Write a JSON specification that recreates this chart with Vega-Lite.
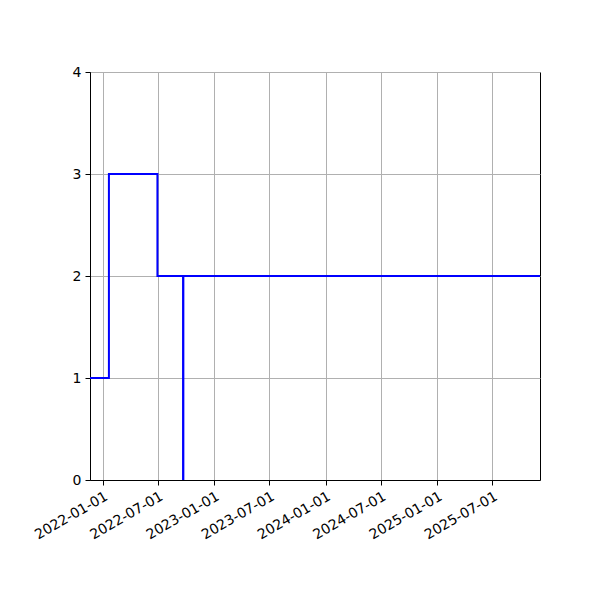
{
  "$schema": "https://vega.github.io/schema/vega-lite/v6.json",
  "autosize": {"type": "none"},
  "padding": {"left": 90, "top": 72, "right": 60, "bottom": 120},
  "width": 450,
  "height": 408,
  "background": "white",
  "data": {
    "values": [
      {"date": "2021-11-20", "value": 1},
      {"date": "2022-01-21", "value": 3},
      {"date": "2022-06-29", "value": 2},
      {"date": "2022-09-21", "value": 0},
      {"date": "2022-09-22", "value": 2},
      {"date": "2025-12-04", "value": 2}
    ]
  },
  "mark": {"type": "line", "interpolate": "step-after", "color": "blue", "strokeWidth": 2, "clip": true},
  "encoding": {
    "x": {
      "field": "date",
      "type": "temporal",
      "scale": {"type": "utc", "domain": [{"year": 2021, "month": 11, "date": 20, "utc": true}, {"year": 2025, "month": 12, "date": 4, "utc": true}], "nice": false},
      "axis": {
        "title": null,
        "values": [
          {"year": 2022, "month": 1, "date": 1, "utc": true},
          {"year": 2022, "month": 7, "date": 1, "utc": true},
          {"year": 2023, "month": 1, "date": 1, "utc": true},
          {"year": 2023, "month": 7, "date": 1, "utc": true},
          {"year": 2024, "month": 1, "date": 1, "utc": true},
          {"year": 2024, "month": 7, "date": 1, "utc": true},
          {"year": 2025, "month": 1, "date": 1, "utc": true},
          {"year": 2025, "month": 7, "date": 1, "utc": true}
        ],
        "format": "%Y-%m-%d",
        "labelAngle": -30,
        "labelAlign": "right",
        "labelBaseline": "top",
        "labelPadding": 4
      }
    },
    "y": {
      "field": "value",
      "type": "quantitative",
      "scale": {"domain": [0, 4], "nice": false},
      "axis": {"title": null, "values": [0, 1, 2, 3, 4], "labelPadding": 4}
    }
  },
  "config": {
    "view": {"stroke": "black", "strokeWidth": 1},
    "axis": {
      "grid": true,
      "gridColor": "#b0b0b0",
      "gridWidth": 1,
      "gridOpacity": 1,
      "domainColor": "black",
      "domainWidth": 1,
      "tickColor": "black",
      "tickSize": 5,
      "tickWidth": 1,
      "labelFont": "DejaVu Sans",
      "labelFontSize": 14,
      "labelColor": "black",
      "labelFlush": false,
      "labelOverlap": false
    }
  }
}
